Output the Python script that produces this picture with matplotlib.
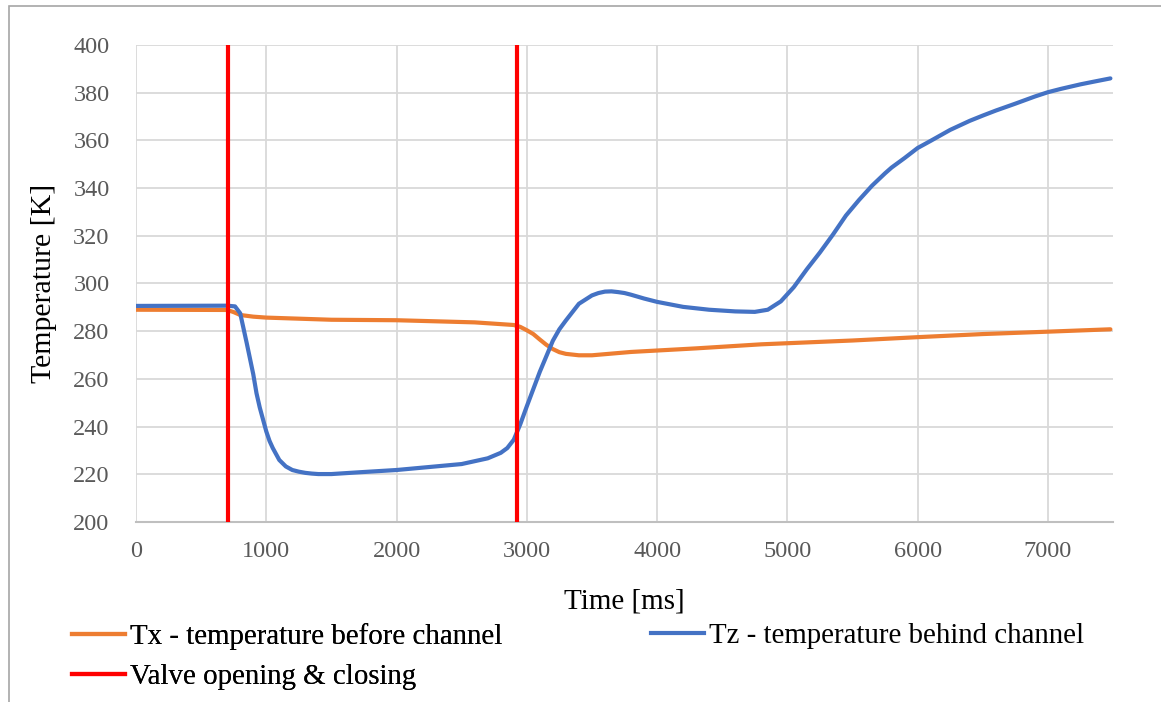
import matplotlib
matplotlib.use("Agg")
import matplotlib.pyplot as plt
from matplotlib.lines import Line2D
from matplotlib.patches import Rectangle

# Tx - temperature before channel
tx_time = [0, 700, 750, 800, 900, 1000, 1500, 2000, 2600, 2900, 2950, 3000, 3050,
           3100, 3150, 3200, 3250, 3300, 3400, 3500, 3800, 4300, 4800, 5500, 6000,
           6500, 7000, 7480]
tx_temp = [289.0, 288.9, 288.0, 286.8, 286.1, 285.7, 284.8, 284.6, 283.7, 282.6,
           281.8, 280.4, 278.8, 276.5, 274.3, 272.5, 271.2, 270.5, 269.9, 269.9,
           271.3, 272.8, 274.5, 276.1, 277.5, 278.8, 279.8, 280.8]

# Tz - temperature behind channel
tz_time = [0, 700, 760, 800, 850, 900, 925, 950, 975, 1000, 1025, 1050, 1100, 1150,
           1200, 1250, 1300, 1350, 1400, 1500, 1700, 2000, 2300, 2500, 2700, 2800,
           2850, 2900, 2950, 3000, 3100, 3200, 3250, 3300, 3400, 3500, 3550, 3600,
           3650, 3700, 3750, 3800, 3900, 4000, 4200, 4400, 4600, 4750, 4850, 4950,
           5050, 5150, 5250, 5350, 5450, 5550, 5650, 5750, 5800, 5900, 6000, 6100,
           6250, 6400, 6500, 6600, 6750, 6900, 7000, 7100, 7250, 7350, 7480]
tz_temp = [290.6, 290.7, 290.4, 287.5, 275.0, 262.0, 254.0, 248.0, 243.0, 238.0,
           234.0, 231.0, 226.0, 223.3, 221.8, 221.1, 220.6, 220.3, 220.1, 220.1,
           220.8, 221.8, 223.3, 224.3, 226.7, 229.0, 231.0, 234.5, 241.0, 248.5,
           263.0, 276.0, 280.8, 284.5, 291.5, 295.0, 296.0, 296.6, 296.7, 296.4,
           296.0, 295.3, 293.7, 292.3, 290.2, 289.0, 288.3, 288.1, 289.0, 292.5,
           298.5, 306.0, 313.0, 320.5, 328.5, 335.0, 341.0, 346.2, 348.6, 352.6,
           356.8, 359.8, 364.4, 368.2, 370.4, 372.5, 375.4, 378.4, 380.2, 381.6,
           383.5, 384.6, 386.0]

# valve opening & closing times
valve_times = [705, 2925]

x_ticks = [0, 1000, 2000, 3000, 4000, 5000, 6000, 7000]
y_ticks = [200, 220, 240, 260, 280, 300, 320, 340, 360, 380, 400]

ORANGE = "#ED7D31"
BLUE = "#4472C4"
RED = "#FF0000"

plt.rcParams["font.family"] = ["Liberation Serif", "DejaVu Serif"]

fig = plt.figure(figsize=(11.61, 7.02), dpi=100)
ax = fig.add_axes([136 / 1161, 1 - 522 / 702, (1113 - 136) / 1161, (522 - 45) / 702])

# outer chart frame (left/top edges visible)
fig.patches.append(Rectangle((9 / 1161, -0.1), 1.2, 1.1 - 6 / 702, transform=fig.transFigure,
                             fill=False, edgecolor="#a6a6a6", linewidth=1.2))

ax.plot(tx_time, tx_temp, color=ORANGE, lw=3, zorder=3, solid_capstyle="round",
        solid_joinstyle="round")
ax.plot(tz_time, tz_temp, color=BLUE, lw=3, zorder=4, solid_capstyle="round",
        solid_joinstyle="round")
for t in valve_times:
    ax.axvline(t, color=RED, lw=3, zorder=5)

ax.set_xlim(0, 7500)
ax.set_ylim(200, 400)
ax.set_xticks(x_ticks)
ax.set_yticks(y_ticks)
ax.grid(True, color="#d9d9d9", lw=1.3, zorder=0)
ax.set_axisbelow(True)
for s in ["top", "right", "left"]:
    ax.spines[s].set_visible(False)
ax.spines["bottom"].set_color("#bfbfbf")
ax.spines["bottom"].set_linewidth(1.5)
ax.tick_params(length=0, labelsize=17.5, labelcolor="#595959")
ax.tick_params(axis="y", pad=19)
ax.tick_params(axis="x", pad=14)

ax.set_xlabel("Time [ms]", fontsize=21, color="black")
ax.xaxis.set_label_coords(0.5, -0.139)
ax.set_ylabel("Temperature [K]", fontsize=21.5, color="black")
ax.yaxis.set_label_coords(-0.081, 0.5)

leg_kw = dict(frameon=False, fontsize=20.8, handlelength=1.83, handletextpad=0.17,
              labelspacing=0.48, borderpad=0, borderaxespad=0, loc="upper left")
h1 = [Line2D([], [], color=ORANGE, lw=3), Line2D([], [], color=RED, lw=3)]
leg1 = fig.legend(h1, ["Tx - temperature before channel", "Valve opening & closing"],
                  bbox_to_anchor=(72 / 1161, 1 - 623 / 702), **leg_kw)
h2 = [Line2D([], [], color=BLUE, lw=3)]
fig.legend(h2, ["Tz - temperature behind channel"],
           bbox_to_anchor=(651 / 1161, 1 - 623 / 702), **leg_kw)
fig.add_artist(leg1)

fig.savefig("out.png", dpi=100)
